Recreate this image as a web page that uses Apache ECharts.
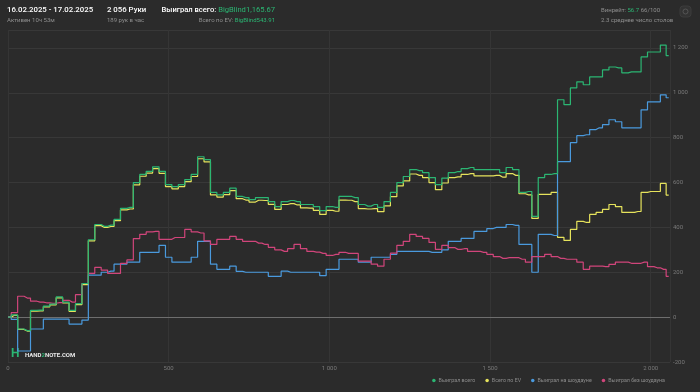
<!DOCTYPE html>
<html><head><meta charset="utf-8">
<script src="https://cdn.jsdelivr.net/npm/echarts@6/dist/echarts.min.js"></script>
<style>html,body{margin:0;padding:0;background:#2b2b2b;}#c{width:700px;height:392px;}</style>
</head><body><div id="c"></div>
<script>
const seriesNames = ['Выиграл всего', 'Всего по EV', 'Выиграл на шоудауне', 'Выиграл без шоудауна'];
const seriesColors = ['#2bb673', '#e6e35c', '#4a9ade', '#d1457b'];
const xTickLabels = ['0', '500', '1 000', '1 500', '2 000'];
const yTickLabels = ['-200', '0', '200', '400', '600', '800', '1 000', '1 200'];

const hands = [0,20,40,60,80,100,120,140,160,180,
  200,220,240,260,280,300,320,340,360,380,
  400,420,440,460,480,500,520,540,560,580,
  600,620,640,660,680,700,720,740,760,780,
  800,820,840,860,880,900,920,940,960,980,
  1000,1020,1040,1060,1080,1100,1120,1140,1160,1180,
  1200,1220,1240,1260,1280,1300,1320,1340,1360,1380,
  1400,1420,1440,1460,1480,1500,1520,1540,1560,1580,
  1600,1620,1640,1660,1680,1700,1720,1740,1760,1780,
  1800,1820,1840,1860,1880,1900,1920,1940,1960,1980,
  2000,2020,2040,2056];

const wonTotal = [0,10,-53,-60,30,31,49,58,90,67,
  30,60,150,345,413,405,410,436,485,489,
  600,636,650,670,650,591,582,591,613,636,
  715,702,556,545,556,575,538,533,524,533,
  533,515,493,515,520,515,502,502,493,475,
  493,489,538,538,533,502,495,502,489,515,
  556,600,627,658,653,644,622,591,620,644,
  649,662,667,658,658,658,658,644,667,658,
  556,560,449,622,636,640,969,947,1022,1049,
  1036,1071,1071,1102,1115,1111,1089,1093,1093,1160,
  1182,1182,1213,1166];

const wonEV = [0,8,-55,-62,27,28,46,55,86,63,
  26,56,145,340,408,400,404,430,478,482,
  590,628,642,662,641,582,572,582,604,627,
  706,692,545,535,546,564,528,522,513,521,
  520,503,480,502,506,500,487,486,476,458,
  476,472,522,521,515,484,482,484,470,496,
  537,585,607,638,632,622,600,568,598,622,
  625,636,640,630,630,630,632,624,640,632,
  550,545,440,547,547,556,356,342,391,427,
  422,458,467,480,502,493,467,467,471,556,
  560,560,596,544];

const wonShowdown = [0,-10,-151,-151,-53,-53,-9,-9,-9,-9,
  -31,-31,-13,187,187,200,205,236,236,245,
  245,289,289,289,320,267,245,245,245,267,
  338,338,236,213,213,227,204,200,200,200,
  200,182,182,205,200,200,200,200,200,185,
  213,213,258,258,258,245,245,267,267,267,
  280,293,293,293,293,293,289,289,300,338,
  338,351,351,382,382,395,400,400,413,409,
  324,324,200,369,369,364,693,693,778,809,
  813,836,844,858,880,871,844,844,844,924,
  960,960,991,978];

const wonNonShowdown = [0,20,93,85,71,67,64,62,65,75,
  67,100,150,195,222,210,195,195,240,255,
  350,369,380,382,347,347,355,355,391,380,
  375,340,324,347,347,360,347,338,338,330,
  324,311,300,293,305,324,305,293,290,284,
  275,280,289,284,284,250,250,236,227,258,
  285,320,338,369,360,351,333,302,320,310,
  302,305,293,293,289,280,270,262,265,265,
  258,245,270,270,280,270,262,258,258,245,
  213,227,227,225,235,245,245,240,240,245,
  225,220,213,182];

const allValues = [wonTotal, wonEV, wonShowdown, wonNonShowdown];

const chart = echarts.init(document.getElementById('c'), null, {renderer: 'canvas'});
const FONT = 'Roboto, "Noto Sans", sans-serif';

const series = allValues.map((vals, i) => ({
  name: seriesNames[i],
  type: 'line',
  step: 'middle',
  showSymbol: false,
  symbol: 'none',
  data: hands.map((h, j) => [h, vals[j]]),
  lineStyle: {width: 1.2, color: seriesColors[i]},
  itemStyle: {color: seriesColors[i]},
  z: 3 + (i === 0 ? 1 : 0),
  markLine: i === 0 ? {
    silent: true, symbol: 'none', label: {show: false},
    lineStyle: {color: '#6e6e6e', width: 1, type: 'solid'},
    data: [{yAxis: 0}], z: 1
  } : undefined
}));

chart.setOption({
  backgroundColor: '#2b2b2b',
  animation: false,
  textStyle: {fontFamily: FONT},
  grid: {left: 8, right: 30, top: 30, bottom: 30, containLabel: false},
  xAxis: {
    type: 'value', min: 0, max: 2060, interval: 500,
    axisLine: {show: false}, axisTick: {show: false},
    axisLabel: {color: '#7a7a7a', fontSize: 6, margin: 3, showMaxLabel: false,
      formatter: v => xTickLabels[v / 500] !== undefined ? xTickLabels[v / 500] : ''},
    splitLine: {show: true, lineStyle: {color: '#353535', width: 1}}
  },
  yAxis: {
    type: 'value', position: 'right', min: -200, max: 1280, interval: 200,
    axisLine: {show: false}, axisTick: {show: false},
    axisLabel: {color: '#7a7a7a', fontSize: 6, margin: 3, showMaxLabel: false,
      formatter: v => { const k = (v + 200) / 200; return yTickLabels[k] !== undefined ? yTickLabels[k] : ''; }},
    splitLine: {show: true, lineStyle: {color: '#383838', width: 1}}
  },
  legend: {
    data: seriesNames, right: 30, bottom: 4, icon: 'circle', itemWidth: 3.5, itemHeight: 3.5,
    itemGap: 10, textStyle: {color: '#8c8c8c', fontSize: 5.3, fontFamily: FONT, padding: [0, 0, 0, -2]}
  },
  graphic: [
    {type: 'text', left: 7, top: 6, style: {text: '16.02.2025 - 17.02.2025', fill: '#ffffff', font: '500 7.8px Roboto'}},
    {type: 'text', left: 7, top: 17.5, style: {text: 'Активен 10ч 53м', fill: '#8f8f8f', font: '6px Roboto'}},
    {type: 'text', left: 107, top: 6, style: {text: '2 056 Руки', fill: '#ffffff', font: '500 7.8px Roboto'}},
    {type: 'text', left: 107, top: 17.5, style: {text: '189 рук в час', fill: '#8f8f8f', font: '6px Roboto'}},
    {type: 'text', style: {x: 275, y: 10.5, textAlign: 'right', textVerticalAlign: 'middle',
      text: '{a|Выиграл всего: }{b|BigBlind1,165.67}',
      rich: {a: {fill: '#ffffff', font: '500 7.6px Roboto'}, b: {fill: '#2bb673', font: '7.6px Roboto'}}}},
    {type: 'text', style: {x: 275, y: 20.5, textAlign: 'right', textVerticalAlign: 'middle',
      text: '{a|Всего по EV: }{b|BigBlind543.91}',
      rich: {a: {fill: '#8f8f8f', font: '6px Roboto'}, b: {fill: '#2bb673', font: '6px Roboto'}}}},
    {type: 'text', style: {x: 601, y: 10.5, textAlign: 'left', textVerticalAlign: 'middle',
      text: '{a|Винрейт: }{b|56.7}{a| 66/100}',
      rich: {a: {fill: '#8f8f8f', font: '6px Roboto'}, b: {fill: '#2bb673', font: '6px Roboto'}}}},
    {type: 'text', left: 601, top: 17.5, style: {text: '2.3 среднее число столов', fill: '#8f8f8f', font: '6px Roboto'}},
    {type: 'rect', shape: {x: 680, y: 6, width: 11, height: 11, r: 3}, style: {fill: '#333333', stroke: '#3c3c3c'}},
    {type: 'circle', shape: {cx: 685.5, cy: 11.5, r: 2.5}, style: {fill: 'none', stroke: '#555555', lineWidth: 1}},
    {type: 'text', left: 11, top: 348, style: {text: 'H', fill: '#2bb673', font: 'bold 12px Roboto'}},
    {type: 'text', style: {x: 25, y: 355, textVerticalAlign: 'middle',
      text: '{a|HAND}{b|2}{a|NOTE.COM}',
      rich: {a: {fill: '#e8e8e8', font: 'bold 6px Roboto'}, b: {fill: '#2bb673', font: 'bold 6px Roboto'}}}}
  ],
  series: series
});
</script></body></html>
